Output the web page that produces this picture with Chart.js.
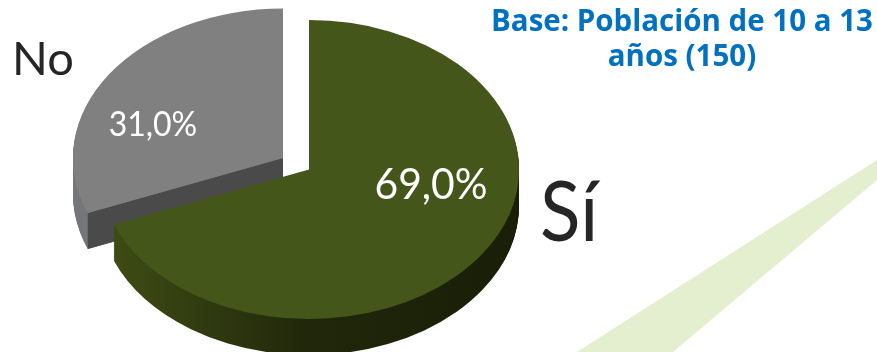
<!DOCTYPE html>
<html>
<head>
<meta charset="utf-8">
<script src="https://cdn.jsdelivr.net/npm/chart.js@4"></script>
<style>html,body{margin:0;padding:0;background:#fff}canvas{display:block}</style>
</head>
<body>
<canvas id="c" width="877" height="352"></canvas>
<script>
const categories = ['Sí', 'No'];
const values = [69, 31];
const baseLines = ['Base: Población de 10 a 13', 'años (150)'];

const PIE = {cx: 309, cy: 169.5, rx: 210, ry: 149.5, depth: 36};
const EXPLODE = [[0, 0], [-26, -11.5]];
const TOP_COLORS = ['#45561a', '#808080'];
const SIDE_STOPS = [
  [[0, '#414e16'], [0.5, '#20270a'], [1, '#191f07']],
  [[0, '#74767a'], [1, '#74767a']]
];
const CUT_COLORS = [null, '#4a4a4a'];
// x, y, font size, horizontal squeeze
const VALUE_POS = [[431, 185, 43, 0.95], [153, 125, 34, 0.94]];
const CAT_POS = [[569, 214, 83, 0.9], [43, 60, 47, 1]];
const FONT_BODY = 'Lato, "Open Sans", sans-serif';

function withColor(arc, color, ctx) {
  const saved = arc.options;
  arc.options = Object.assign({}, saved, {backgroundColor: color});
  arc.draw(ctx);
  arc.options = saved;
}

function squeezedText(ctx, text, pos, font) {
  ctx.save();
  ctx.font = pos[2] + 'px ' + font;
  ctx.translate(pos[0], pos[1]);
  ctx.scale(pos[3], 1);
  ctx.fillText(text, 0, 0);
  ctx.restore();
}

const pie3d = {
  id: 'pie3d',
  beforeDraw(chart) {
    const ctx = chart.ctx;
    ctx.save();
    ctx.fillStyle = '#fff';
    ctx.fillRect(0, 0, chart.width, chart.height);
    ctx.fillStyle = '#e4efd0';
    ctx.beginPath();
    ctx.moveTo(877, 160); ctx.lineTo(877, 180); ctx.lineTo(673, 352); ctx.lineTo(577, 352);
    ctx.closePath(); ctx.fill();
    ctx.restore();
  },
  beforeDatasetsDraw(chart) {
    const ctx = chart.ctx;
    const arcs = chart.getDatasetMeta(0).data;
    [1, 0].forEach(i => {
      const arc = arcs[i];
      const R = arc.outerRadius;
      const sx = PIE.rx / R, sy = PIE.ry / R;
      const px = PIE.cx + EXPLODE[i][0], py = PIE.cy + EXPLODE[i][1];
      const place = dy => {
        ctx.translate(px, py + dy);
        ctx.scale(sx, sy);
        ctx.translate(-arc.x, -arc.y);
      };
      const grad = ctx.createLinearGradient(arc.x - R, 0, arc.x + R, 0);
      SIDE_STOPS[i].forEach(s => grad.addColorStop(s[0], s[1]));
      for (let d = PIE.depth; d >= 1; d--) {
        ctx.save(); place(d); withColor(arc, grad, ctx); ctx.restore();
      }
      if (CUT_COLORS[i]) {
        const a = arc.startAngle;
        const ex = px + PIE.rx * Math.cos(a), ey = py + PIE.ry * Math.sin(a);
        ctx.save();
        ctx.fillStyle = CUT_COLORS[i];
        ctx.beginPath();
        ctx.moveTo(px, py); ctx.lineTo(ex, ey);
        ctx.lineTo(ex, ey + PIE.depth); ctx.lineTo(px, py + PIE.depth);
        ctx.closePath(); ctx.fill();
        ctx.restore();
      }
      ctx.save(); place(0); withColor(arc, TOP_COLORS[i], ctx); ctx.restore();
    });
    return false;
  },
  afterDraw(chart) {
    const ctx = chart.ctx;
    ctx.save();
    ctx.textAlign = 'center';
    ctx.textBaseline = 'middle';
    values.forEach((v, i) => {
      ctx.fillStyle = '#ffffff';
      squeezedText(ctx, v.toFixed(1).replace('.', ',') + '%', VALUE_POS[i], FONT_BODY);
      ctx.fillStyle = '#262626';
      squeezedText(ctx, categories[i], CAT_POS[i], FONT_BODY);
    });
    ctx.fillStyle = '#0070c0';
    ctx.font = 'bold 29.5px "Open Sans", sans-serif';
    ctx.fillText(baseLines[0], 682, 23);
    ctx.fillText(baseLines[1], 682, 58);
    ctx.restore();
  }
};

new Chart(document.getElementById('c'), {
  type: 'pie',
  data: {labels: categories, datasets: [{data: values, backgroundColor: TOP_COLORS, borderWidth: 0, clip: false}]},
  options: {
    responsive: false,
    animation: false,
    radius: 100,
    rotation: 0,
    plugins: {legend: {display: false}, tooltip: {enabled: false}}
  },
  plugins: [pie3d]
});
</script>
</body>
</html>
